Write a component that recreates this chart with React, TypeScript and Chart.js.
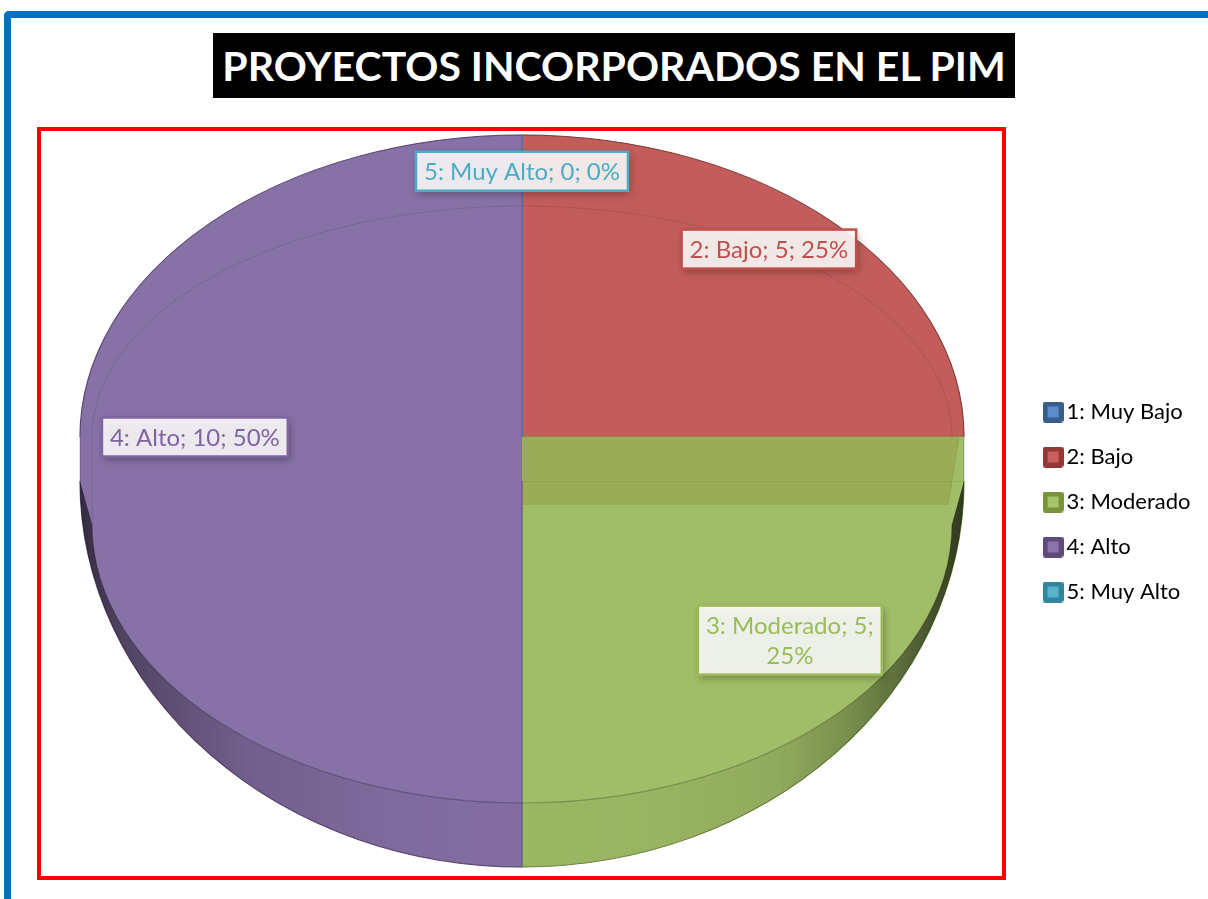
import React, { useEffect, useRef } from 'react';
import { Chart, registerables } from 'chart.js';

Chart.register(...registerables);

// ---------- data ----------
const categories = ['1: Muy Bajo', '2: Bajo', '3: Moderado', '4: Alto', '5: Muy Alto'];
const values = [0, 5, 5, 10, 0];
const titleText = 'PROYECTOS INCORPORADOS EN EL PIM';

// ---------- styles ----------
const faceColors = ['#4f81bd', '#c25d5b', '#a0be67', '#8871a7', '#4bacc6'];
const borderColors = ['#4a6fa8', '#a84c4a', '#88a552', '#6f5a8e', '#3f97ad'];
const legendOuter = ['#385d8a', '#953735', '#77933c', '#604a7b', '#31859c'];
const legendInner = ['#5b8ccb', '#c9605d', '#a6c46c', '#8b73ab', '#58b4cd'];
const labelColors = ['#4f81bd', '#c0504d', '#9bbb59', '#8064a2', '#4bacc6'];

const FONT = 'Lato, "Open Sans", sans-serif';

// 3D pie projection (layout constants)
const G = {
  cx: 522,
  upCy: 437, upRx: 442, upRy: 302,      // back half silhouette
  lowCy: 481, lowRx: 442, lowRy: 386,   // front silhouette (bottom of side wall)
  faceCy: 524, faceRx: 430, faceRy: 279, // front edge of top face
  bevelRx: 430, bevelRy: 231,
  cutBottom: 505,
};

const TAU = Math.PI * 2;

function sliceAt(arcs: any[], theta: number) {
  for (let i = 0; i < arcs.length; i++) {
    const a = arcs[i];
    if (a.endAngle - a.startAngle <= 0) continue;
    let t = theta;
    while (t < a.startAngle) t += TAU;
    while (t >= a.startAngle + TAU) t -= TAU;
    if (t < a.endAngle) return i;
  }
  return -1;
}

function legendSwatch(i: number) {
  const c = document.createElement('canvas');
  c.width = 21;
  c.height = 21;
  const g = c.getContext('2d')!;
  g.fillStyle = legendOuter[i];
  g.beginPath();
  (g as any).roundRect ? (g as any).roundRect(0, 0, 21, 21, 3) : g.rect(0, 0, 21, 21);
  g.fill();
  g.fillStyle = legendInner[i];
  g.fillRect(5, 5, 11, 11);
  return c;
}

const framePlugin = {
  id: 'frame',
  beforeDraw(chart: any) {
    const ctx = chart.ctx;
    ctx.save();
    ctx.strokeStyle = '#ff0000';
    ctx.lineWidth = 4;
    ctx.strokeRect(39, 129, 965, 749);
    ctx.restore();
  },
};

const pie3dPlugin = {
  id: 'pie3d',
  beforeDatasetsDraw(chart: any) {
    const ctx = chart.ctx;
    const meta = chart.getDatasetMeta(0);
    const arcs = meta.data as any[];
    if (!arcs.length) return false;
    const ox = arcs[0].x, oy = arcs[0].y, R = arcs[0].outerRadius;
    const W = chart.width, H = chart.height;

    const drawHalf = (cy: number, rx: number, ry: number, y0: number, y1: number) => {
      ctx.save();
      ctx.beginPath();
      ctx.rect(0, y0, W, y1 - y0);
      ctx.clip();
      ctx.translate(G.cx, cy);
      ctx.scale(rx / R, ry / R);
      ctx.translate(-ox, -oy);
      arcs.forEach((a) => a.draw(ctx));
      ctx.restore();
    };

    // back half and front half of the top surface
    drawHalf(G.upCy, G.upRx, G.upRy, 0, G.upCy);
    drawHalf(G.lowCy, G.lowRx, G.lowRy, G.lowCy, H);

    // band joining both halves
    const right = sliceAt(arcs, 0.0001);
    const left = sliceAt(arcs, Math.PI);
    if (right >= 0) {
      ctx.fillStyle = faceColors[right];
      ctx.fillRect(G.cx, G.upCy, G.upRx, G.lowCy - G.upCy);
    }
    if (left >= 0) {
      ctx.fillStyle = faceColors[left];
      ctx.fillRect(G.cx - G.upRx, G.upCy, G.upRx, G.lowCy - G.upCy);
    }

    // cut face of the slice starting at 3 o'clock
    if (right >= 0) {
      ctx.save();
      ctx.fillStyle = 'rgba(135,100,18,0.2)';
      ctx.beginPath();
      ctx.moveTo(G.cx, G.upCy);
      ctx.lineTo(G.cx + G.upRx - 5, G.upCy);
      ctx.lineTo(G.cx + G.faceRx - 4, G.cutBottom);
      ctx.lineTo(G.cx, G.cutBottom);
      ctx.closePath();
      ctx.fill();
      ctx.strokeStyle = 'rgba(110,140,50,0.35)';
      ctx.lineWidth = 1;
      ctx.beginPath();
      ctx.moveTo(G.cx + G.upRx - 5, G.upCy);
      ctx.lineTo(G.cx + G.faceRx - 4, G.cutBottom);
      ctx.stroke();
      ctx.restore();
    }

    // side wall shading
    ctx.save();
    ctx.beginPath();
    ctx.ellipse(G.cx, G.lowCy, G.lowRx, G.lowRy, 0, 0, Math.PI, false);
    ctx.lineTo(G.cx - G.faceRx, G.faceCy);
    ctx.ellipse(G.cx, G.faceCy, G.faceRx, G.faceRy, 0, Math.PI, 0, true);
    ctx.closePath();
    const gx0 = G.cx - G.lowRx, gx1 = G.cx + G.lowRx;
    const grad = ctx.createLinearGradient(gx0, 0, gx1, 0);
    grad.addColorStop(0, 'rgba(0,0,0,0.62)');
    grad.addColorStop(0.05, 'rgba(0,0,0,0.40)');
    grad.addColorStop(0.19, 'rgba(0,0,0,0.16)');
    grad.addColorStop(0.36, 'rgba(0,0,0,0.06)');
    grad.addColorStop(0.5, 'rgba(0,0,0,0.04)');
    grad.addColorStop(0.65, 'rgba(0,0,0,0.05)');
    grad.addColorStop(0.79, 'rgba(0,0,0,0.10)');
    grad.addColorStop(0.87, 'rgba(0,0,0,0.25)');
    grad.addColorStop(0.93, 'rgba(0,0,0,0.43)');
    grad.addColorStop(1, 'rgba(0,0,0,0.70)');
    ctx.fillStyle = grad;
    ctx.fill();
    ctx.restore();

    // top face front edge
    ctx.save();
    ctx.strokeStyle = 'rgba(0,0,0,0.22)';
    ctx.lineWidth = 1.2;
    ctx.beginPath();
    ctx.ellipse(G.cx, G.faceCy, G.faceRx, G.faceRy, 0, 0, Math.PI, false);
    ctx.stroke();
    // bevel line at the back
    ctx.strokeStyle = 'rgba(0,0,0,0.10)';
    ctx.lineWidth = 1;
    ctx.beginPath();
    ctx.moveTo(G.cx - G.bevelRx, G.faceCy);
    ctx.lineTo(G.cx - G.bevelRx, G.upCy);
    ctx.ellipse(G.cx, G.upCy, G.bevelRx, G.bevelRy, 0, Math.PI, TAU, false);
    ctx.stroke();
    // outline of the whole pie
    ctx.strokeStyle = 'rgba(0,0,0,0.22)';
    ctx.beginPath();
    ctx.ellipse(G.cx, G.upCy, G.upRx, G.upRy, 0, Math.PI, TAU, false);
    ctx.lineTo(G.cx + G.lowRx, G.lowCy);
    ctx.ellipse(G.cx, G.lowCy, G.lowRx, G.lowRy, 0, 0, Math.PI, false);
    ctx.closePath();
    ctx.stroke();
    ctx.restore();

    // zero-value slices are drawn as a thin radial line
    for (let i = arcs.length - 1; i >= 0; i--) {
      const a = arcs[i];
      if (a.endAngle - a.startAngle > 0) continue;
      const s = Math.sin(a.startAngle), c = Math.cos(a.startAngle);
      const up = s <= 0;
      const cy = up ? G.upCy : G.lowCy;
      const rx = up ? G.upRx : G.lowRx;
      const ry = up ? G.upRy : G.lowRy;
      ctx.save();
      ctx.strokeStyle = borderColors[i];
      ctx.lineWidth = 1.5;
      ctx.beginPath();
      ctx.moveTo(G.cx, cy);
      ctx.lineTo(G.cx + rx * c, cy + ry * s);
      ctx.stroke();
      ctx.restore();
    }
    return false;
  },
};

function labelLines(text: string) {
  if (text.length <= 18) return [text];
  const k = text.lastIndexOf(' ');
  return [text.slice(0, k), text.slice(k + 1)];
}

const labelPlugin = {
  id: 'sliceLabels',
  afterDraw(chart: any) {
    const ctx = chart.ctx;
    const arcs = chart.getDatasetMeta(0).data as any[];
    const total = values.reduce((s, v) => s + v, 0);
    const placed: { x0: number; y0: number; x1: number; y1: number }[] = [];
    const fontSize = 24;
    const lineH = 30;
    const padY = 9;
    ctx.save();
    ctx.font = `${fontSize}px ${FONT}`;
    for (let i = arcs.length - 1; i >= 0; i--) {
      const a = arcs[i];
      const mid = (a.startAngle + a.endAngle) / 2;
      const c = Math.cos(mid), s = Math.sin(mid);
      let x: number, y: number;
      if (s <= 0.001) {
        x = G.cx + 11 * Math.abs(c) + G.upRx * 0.765 * c;
        y = G.upCy + G.upRy * 0.88 * s;
      } else {
        x = G.cx + G.lowRx * 0.857 * c;
        y = G.lowCy + G.lowRy * 0.583 * s;
      }
      const pct = Math.round((values[i] / total) * 100);
      const lines = labelLines(`${categories[i]}; ${values[i]}; ${pct}%`);
      const tw = Math.max(...lines.map((l) => ctx.measureText(l).width));
      const bw = tw + 16;
      const bh = lines.length * lineH + padY;
      const box = { x0: x - bw / 2, y0: y - bh / 2, x1: x + bw / 2, y1: y + bh / 2 };
      if (placed.some((p) => !(box.x1 < p.x0 || box.x0 > p.x1 || box.y1 < p.y0 || box.y0 > p.y1))) continue;
      placed.push(box);
      ctx.save();
      ctx.shadowColor = 'rgba(0,0,0,0.35)';
      ctx.shadowBlur = 8;
      ctx.shadowOffsetX = 2;
      ctx.shadowOffsetY = 3;
      ctx.fillStyle = 'rgba(255,255,255,0.88)';
      ctx.fillRect(box.x0, box.y0, bw, bh);
      ctx.restore();
      ctx.strokeStyle = labelColors[i];
      ctx.lineWidth = 2.5;
      ctx.strokeRect(box.x0, box.y0, bw, bh);
      ctx.fillStyle = labelColors[i];
      ctx.textAlign = 'center';
      ctx.textBaseline = 'middle';
      lines.forEach((l, k) => {
        ctx.fillText(l, x, box.y0 + padY / 2 + lineH * k + lineH / 2 + 1);
      });
    }
    ctx.restore();
  },
};

export default function App() {
  const ref = useRef<HTMLCanvasElement>(null);

  useEffect(() => {
    if (!ref.current) return;
    const swatches = categories.map((_, i) => legendSwatch(i));
    const chart = new Chart(ref.current, {
      type: 'pie',
      data: {
        labels: categories,
        datasets: [
          {
            data: values,
            backgroundColor: faceColors,
            borderColor: borderColors,
            borderWidth: 1,
          },
        ],
      },
      options: {
        responsive: false,
        animation: false,
        layout: { padding: { left: 80, right: 7.5, top: 135, bottom: 30 } },
        plugins: {
          title: { display: false },
          tooltip: { enabled: false },
          legend: {
            position: 'right',
            labels: {
              color: '#000000',
              font: { family: FONT, size: 22 },
              usePointStyle: true,
              pointStyleWidth: 5,
              boxHeight: 21,
              padding: 23,
              generateLabels: () =>
                categories.map((c, i) => ({
                  text: c,
                  fillStyle: legendInner[i],
                  strokeStyle: legendOuter[i],
                  lineWidth: 0,
                  pointStyle: swatches[i],
                  hidden: false,
                  index: i,
                  fontColor: '#000000',
                })),
            },
          },
        },
      } as any,
      plugins: [framePlugin, pie3dPlugin, labelPlugin],
    });
    return () => chart.destroy();
  }, []);

  return (
    <div style={{ position: 'absolute', left: 0, top: 0, width: 1208, height: 899, overflow: 'hidden', background: '#ffffff' }}>
      <div
        style={{
          position: 'absolute',
          left: 4,
          top: 11,
          width: 1400,
          height: 1100,
          borderTop: '7px solid #0070c0',
          borderLeft: '7px solid #0070c0',
          borderTopLeftRadius: 5,
          boxSizing: 'border-box',
        }}
      />
      <canvas ref={ref} width={1208} height={899} style={{ position: 'absolute', left: 0, top: 0, display: 'block' }} />
      <div
        style={{
          position: 'absolute',
          left: 213,
          top: 33,
          width: 802,
          height: 65,
          background: '#000000',
          color: '#ffffff',
          fontFamily: FONT,
          fontWeight: 700,
          fontSize: 41,
          display: 'flex',
          alignItems: 'center',
          justifyContent: 'center',
          whiteSpace: 'nowrap',
          letterSpacing: 0,
        }}
      >
        {titleText}
      </div>
    </div>
  );
}
